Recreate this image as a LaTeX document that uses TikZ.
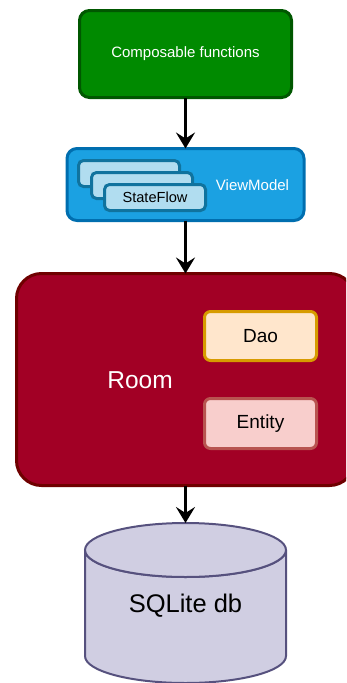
\documentclass[tikz,border=0pt]{standalone}
\usepackage{fontspec}
\setmainfont{Liberation Sans}
\usetikzlibrary{arrows.meta}

\definecolor{composefill}{HTML}{008A00}
\definecolor{composeline}{HTML}{005700}
\definecolor{vmfill}{HTML}{1BA1E2}
\definecolor{vmline}{HTML}{006EAF}
\definecolor{flowfill}{HTML}{B1DDF0}
\definecolor{flowline}{HTML}{10739E}
\definecolor{roomfill}{HTML}{A20025}
\definecolor{roomline}{HTML}{6F0000}
\definecolor{daofill}{HTML}{FFE6CC}
\definecolor{daoline}{HTML}{D79B00}
\definecolor{entityfill}{HTML}{F8CECC}
\definecolor{entityline}{HTML}{B85450}
\definecolor{dbfill}{HTML}{D0CEE2}
\definecolor{dbline}{HTML}{56517E}

\tikzset{
  layer/.style={rectangle, rounded corners=10pt, line width=3pt, inner sep=0pt, outer sep=0pt},
  flowbox/.style={layer, rounded corners=5pt, fill=flowfill, draw=flowline, minimum width=101pt, minimum height=26pt, font=\fontsize{14.6}{16}\selectfont},
  part/.style={layer, rounded corners=6pt, minimum width=112pt, minimum height=49pt, font=\fontsize{19}{22}\selectfont},
  link/.style={-{Stealth[length=16pt,width=19pt,inset=6pt]}, line width=3.5pt},
}

\begin{document}
\begin{tikzpicture}[x=1pt,y=-1pt]
  \useasboundingbox (0,0) rectangle (346,683);
  \clip (0,0) rectangle (346,683);

  \node[layer, fill=composefill, draw=composeline, minimum width=212pt, minimum height=87pt,
        text=white, font=\fontsize{15}{18}\selectfont] (ui) at (185.5,54) {Composable functions};

  \node[layer, fill=vmfill, draw=vmline, minimum width=237pt, minimum height=72pt] (vm) at (185.5,184.5) {};
  \node[flowbox] (flow1) at (129,173.5) {};
  \node[flowbox] (flow2) at (142,185.5) {};
  \node[flowbox] (flow3) at (155,197.5) {StateFlow};
  \node[text=white, font=\fontsize{15}{18}\selectfont] (vmlabel) at (252.5,185) {ViewModel};

  \node[layer, rounded corners=25pt, fill=roomfill, draw=roomline, minimum width=338pt, minimum height=212pt] (room) at (185.5,379.5) {};
  \node[text=white, font=\fontsize{24.5}{28}\selectfont] (roomlabel) at (140,380) {Room};
  \node[part, fill=daofill, draw=daoline] (dao) at (260.5,336) {Dao};
  \node[part, fill=entityfill, draw=entityline, minimum height=50pt] (entity) at (260.5,423.5) {Entity};

  % database cylinder
  \coordinate (dbtop) at (185.5,523);
  \filldraw[fill=dbfill, draw=dbline, line width=2pt]
    (85,550) arc[start angle=180, end angle=360, x radius=100.5pt, y radius=27pt]
    -- (286,656) arc[start angle=0, end angle=180, x radius=100.5pt, y radius=-27pt] -- cycle;
  \filldraw[fill=dbfill, draw=dbline, line width=2pt] (185.5,550) ellipse[x radius=100.5pt, y radius=27pt];
  \node[font=\fontsize{25.5}{30}\selectfont] (db) at (185.5,606) {SQLite db};

  \draw[link] (ui) -- (vm);
  \draw[link] (vm) -- (room);
  \draw[link] (room) -- (dbtop);
\end{tikzpicture}
\end{document}
